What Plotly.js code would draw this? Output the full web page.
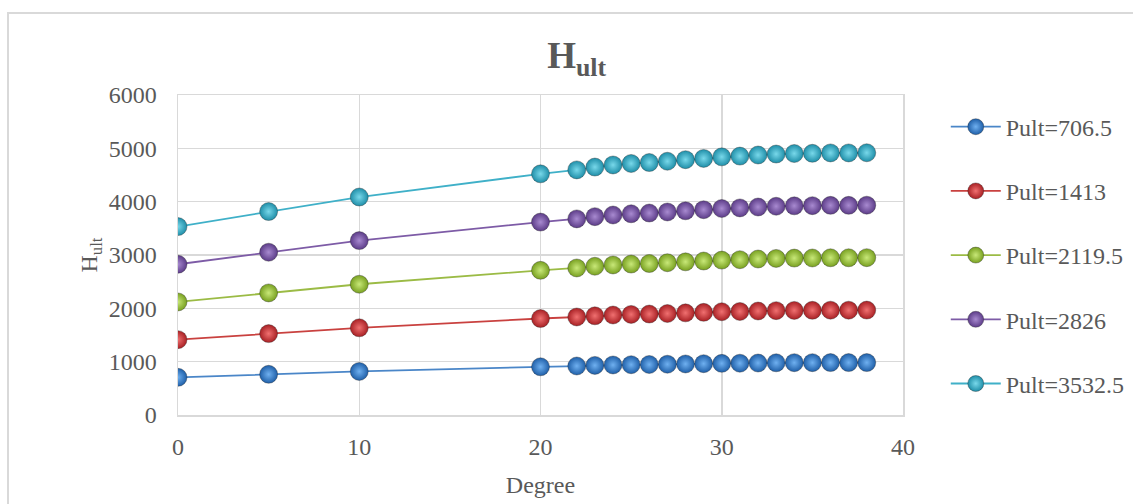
<!DOCTYPE html>
<html>
<head>
<meta charset="utf-8">
<script src="https://cdn.plot.ly/plotly-3.0.1.min.js"></script>
<style>
  html, body { margin: 0; padding: 0; background: #ffffff; overflow: hidden; }
  #frame { position: absolute; left: 7px; top: 12px; width: 1160px; height: 520px;
           border: 2px solid #d9d9d9; box-sizing: border-box; }
  #chart { position: absolute; left: 0; top: 0; width: 1133px; height: 504px; }
</style>
</head>
<body>
<div id="frame"></div>
<div id="chart"></div>
<script>
// Inclination angle (degrees)
const degree = [0, 5, 10, 20, 22, 23, 24, 25, 26, 27, 28, 29, 30, 31, 32, 33, 34, 35, 36, 37, 38];

// Ultimate horizontal capacity for each vertical load level
const hult_706_5  = [706.5, 763, 817, 904, 919, 930, 938, 943, 947, 952, 957, 962, 968, 971, 975, 979, 981, 981, 983, 983, 983];
const hult_1413   = [1413, 1526, 1635, 1809, 1838, 1860, 1875, 1886, 1893, 1903, 1915, 1925, 1936, 1941, 1950, 1957, 1961, 1963, 1965, 1965, 1967];
const hult_2119_5 = [2119.5, 2289, 2452, 2713, 2757, 2789, 2813, 2830, 2840, 2855, 2872, 2887, 2904, 2912, 2925, 2936, 2942, 2944, 2948, 2948, 2950];
const hult_2826   = [2826, 3052, 3270, 3617, 3677, 3719, 3750, 3773, 3787, 3807, 3829, 3849, 3872, 3883, 3900, 3914, 3922, 3925, 3931, 3931, 3934];
const hult_3532_5 = [3532.5, 3815, 4087, 4522, 4596, 4649, 4688, 4716, 4734, 4758, 4787, 4811, 4840, 4854, 4875, 4893, 4903, 4907, 4914, 4914, 4917];

const seriesNames = ['Pult=706.5', 'Pult=1413', 'Pult=2119.5', 'Pult=2826', 'Pult=3532.5'];
const seriesValues = [hult_706_5, hult_1413, hult_2119_5, hult_2826, hult_3532_5];

const xTicks = [0, 10, 20, 30, 40];
const yTicks = [0, 1000, 2000, 3000, 4000, 5000, 6000];

// line colour, sphere edge colour, sphere highlight colour
const styles = [
  { line: '#4a86c8', edge: '#1f5fa8', glow: '#6fb0f0' },
  { line: '#c9413f', edge: '#a82024', glow: '#f07070' },
  { line: '#9bbb45', edge: '#78a020', glow: '#c8e878' },
  { line: '#7d5ba6', edge: '#5c3c88', glow: '#a88ad0' },
  { line: '#3fb0c8', edge: '#1f8ea8', glow: '#78d8ea' }
];

const traces = seriesValues.map((vals, i) => ({
  type: 'scatter',
  mode: 'lines+markers',
  name: seriesNames[i],
  legendgroup: 'g' + i,
  x: degree,
  y: vals,
  line: { color: styles[i].line, width: 1.8 },
  marker: {
    size: 18,
    color: styles[i].edge,
    gradient: { type: 'radial', color: styles[i].glow },
    line: { color: 'rgba(40,40,40,0.45)', width: 0.8 }
  }
}));

const fontFamily = '"Liberation Serif", "Times New Roman", serif';
const textColor = '#595959';

const layout = {
  width: 1133,
  height: 504,
  paper_bgcolor: 'rgba(0,0,0,0)',
  plot_bgcolor: '#ffffff',
  margin: { l: 178, r: 230, t: 95, b: 89, autoexpand: false },
  font: { family: fontFamily, color: textColor, size: 24 },
  title: {
    text: '<b>H<sub>ult</sub></b>',
    font: { family: fontFamily, size: 37, color: textColor },
    x: 0.509, xref: 'container', xanchor: 'center',
    y: 0.89, yref: 'container', yanchor: 'middle'
  },
  xaxis: {
    range: [0, 40],
    tickvals: xTicks,
    ticktext: xTicks.map(String),
    showgrid: true,
    gridcolor: '#d9d9d9',
    gridwidth: 1.5,
    zeroline: false,
    showline: true,
    linecolor: '#d9d9d9',
    linewidth: 1.5,
    mirror: true,
    ticks: '',
    ticklabelstandoff: 10,
    tickfont: { family: fontFamily, size: 24, color: textColor },
    title: { text: 'Degree', font: { family: fontFamily, size: 24, color: textColor }, standoff: 17 }
  },
  yaxis: {
    range: [0, 6000],
    tickvals: yTicks,
    ticktext: yTicks.map(String),
    showgrid: true,
    gridcolor: '#d9d9d9',
    gridwidth: 1.5,
    zeroline: false,
    showline: true,
    linecolor: '#d9d9d9',
    linewidth: 1.5,
    mirror: true,
    ticks: '',
    ticklabelstandoff: 15,
    tickfont: { family: fontFamily, size: 24, color: textColor },
    title: { text: 'H<sub>ult</sub>', font: { family: fontFamily, size: 24, color: textColor }, standoff: 4 }
  },
  showlegend: true,
  legend: {
    x: 1.059, xanchor: 'left',
    y: 0.97, yanchor: 'top',
    traceorder: 'grouped',
    tracegroupgap: 30,
    itemwidth: 50,
    bgcolor: 'rgba(0,0,0,0)',
    font: { family: fontFamily, size: 24, color: textColor }
  }
};

Plotly.newPlot('chart', traces, layout, { displayModeBar: false, staticPlot: true });
</script>
</body>
</html>
